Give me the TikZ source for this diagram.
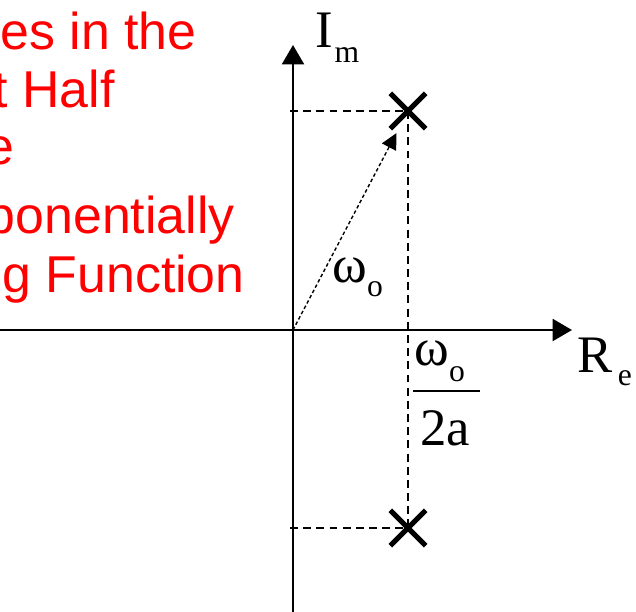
\documentclass[tikz,border=0pt]{standalone}
\usepackage{fontspec}
\setmainfont{Liberation Serif}
\newfontfamily\notefont{Liberation Sans}
\usetikzlibrary{positioning,arrows.meta,shapes.misc}
\newcommand\axsub[2][8pt]{\raisebox{-#1}{\fontsize{18}{18}\selectfont #2}}
\tikzset{
  axis/.style={line width=1.2pt, -{Triangle[length=11pt, width=12.5pt]}},
  guide/.style={line width=1pt, dash pattern=on 4.5pt off 3pt},
  vec/.style={line width=0.8pt, dash pattern=on 2pt off 1.4pt,
    -{Triangle[length=9pt, width=9pt]}, shorten >=0.5cm},
  pole/.style={cross out, draw, line width=3pt, minimum size=0.6cm, inner sep=0pt},
  lbl/.style={inner sep=0pt, anchor=base west, font=\fontsize{30}{30}\selectfont},
  note/.style={inner sep=0pt, anchor=base east, text=red,
    font=\notefont\fontsize{29.5}{30}\selectfont},
}
\begin{document}
\begin{tikzpicture}[x=0.02cm, y=-0.02cm]
    \useasboundingbox (0,0) rectangle (636,612);
    \clip (0,0) rectangle (636,612);
    % red caption, cut off at the left edge
    \node[note] (cap1) at (197,50) {es in the};
    \node[note] (cap2) at (115,107) {t Half};
    \node[note] (cap3) at (15,164) {e};
    \node[note] (cap4) at (235,233) {ponentially};
    \node[note] (cap5) at (245,292) {g Function};
    % axes
    \coordinate (O) at (293,330);
    \coordinate (ybot) at (293,612);
    \coordinate (ytop) at (293,45);
    \coordinate (xleft) at (0,330);
    \coordinate (xright) at (572,330);
    \draw[axis] (ybot) -- (ytop);
    \draw[axis] (xleft) -- (xright);
    \node[lbl] (imlab) at (315,48) {I\kern1pt\axsub{m}};
    \node[lbl] (relab) at (577,372) {R\kern3pt\axsub[7.5pt]{e}};
    % poles
    \coordinate (t1) at (290,111);
    \coordinate (t2) at (290,528);
    \node[pole] (pole1) at (408,111) {};
    \node[pole] (pole2) at (408,528) {};
    \draw[guide] (t1) -- (pole1.center);
    \draw[guide] (t2) -- (pole2.center);
    \draw[guide] (pole1.center) -- (pole2.center);
    \draw[vec] (O) -- (pole1.center);
    \node[lbl] (wlab) at (332,282) {ω\axsub[8pt]{o}};
    % real part
    \node[lbl] (num) at (414,365) {ω\axsub[9.5pt]{o}};
    \node[lbl] (den) at (420,445) {2a};
    \coordinate (barl) at (413,391);
    \coordinate (barr) at (480,391);
    \draw[line width=1.2pt] (barl) -- (barr);
\end{tikzpicture}
\end{document}
